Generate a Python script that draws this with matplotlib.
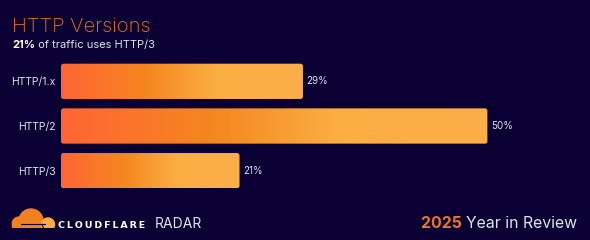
import numpy as np
import matplotlib
matplotlib.use("Agg")
from matplotlib import pyplot as plt
from matplotlib.colors import LinearSegmentedColormap
from matplotlib.patches import FancyBboxPatch, Circle, Rectangle


versions = ["HTTP/1.x", "HTTP/2", "HTTP/3"]
shares = [28.6, 50.4, 21.1]
value_labels = ["29%", "50%", "21%"]

title = "HTTP Versions"
sub_bold = "21%"
sub_rest = " of traffic uses HTTP/3"

BG = "#0A0033"
ORANGE = "#EF7620"
TEXT = "#E2E2EC"
W, H = 590, 240

plt.rcParams["font.family"] = ["Inter", "DejaVu Sans"]

grad = LinearSegmentedColormap.from_list(
	"cf", [(0.0, "#FF6535"), (0.35, "#F5861F"), (0.65, "#FBAE44"), (1.0, "#FBAE48")])


def px(x, y):
	# pixel coords from top-left -> figure fraction
	return x / W, 1 - y / H


def main():
	fig = plt.figure(figsize=(W / 100, H / 100), dpi=100, facecolor=BG)

	ax = fig.add_axes([61 / W, (240 - 193) / H, (W - 61) / W, 134 / H])
	ax.set_facecolor(BG)
	for s in ax.spines.values():
		s.set_visible(False)
	ax.set_xticks([])
	ax.set_yticks(range(len(versions)))
	ax.set_yticklabels(versions, color=TEXT, fontsize=7.5)
	ax.tick_params(axis="y", length=0, pad=4)

	bars = ax.barh(range(len(versions)), shares, height=0.79, color="none")
	g = np.linspace(0, 1, 256).reshape(1, -1)
	for b, lab in zip(bars, value_labels):
		x0, y0 = b.get_x(), b.get_y()
		w, h = b.get_width(), b.get_height()
		shape = FancyBboxPatch((x0, y0), w, h,
			boxstyle="round,pad=0,rounding_size=0.3", mutation_aspect=0.19,
			facecolor="none", edgecolor="none")
		ax.add_patch(shape)
		im = ax.imshow(g, cmap=grad, aspect="auto", extent=(x0, x0 + w, y0 + h, y0),
			interpolation="bilinear")
		im.set_clip_path(shape)
		ax.text(x0 + w + 0.4, y0 + h / 2, lab, color=TEXT, fontsize=7,
			va="center", ha="left")
	ax.set_xlim(0, (W - 61) / 8.46)
	ax.set_ylim(len(versions) - 0.5, -0.5)

	# header
	fig.text(*px(12, 31.5), title, color=ORANGE, fontsize=14.5, fontweight="light",
		va="baseline")
	t1 = fig.text(*px(12, 48), sub_bold, color="white", fontsize=8,
		fontweight="bold", va="baseline")
	plt.annotate(sub_rest, xy=(1, 0), xycoords=t1, color=TEXT, fontsize=8,
		va="bottom", ha="left")

	# footer
	y2 = fig.text(*px(577, 228), "Year in Review", color=TEXT, fontsize=11.4,
		ha="right", va="baseline")
	plt.annotate("2025 ", xy=(0, 0), xycoords=y2, color=ORANGE, fontsize=11.4,
		fontweight="bold", ha="right", va="bottom")

	fig.text(*px(58, 228), "C\u2009L\u2009O\u2009U\u2009D\u2009F\u2009L\u2009A\u2009R\u2009E",
		color="white", fontsize=6.8, fontweight="bold", family="DejaVu Sans",
		va="baseline")
	fig.text(*px(155, 228), "RADAR", color=TEXT, fontsize=10, va="baseline")

	# cloud logo, drawn in pixel units
	lx = fig.add_axes([8 / W, 1 - 232 / H, 50 / W, 27 / H])
	lx.set_xlim(8, 58)
	lx.set_ylim(232, 205)
	lx.axis("off")
	clip = Rectangle((0, 0), 100, 228, transform=lx.transData)
	parts = [
		Circle((31, 221), 12, color="#F38020"),
		Circle((19, 223.5), 6.5, color="#F38020"),
		Rectangle((12, 221), 32, 7, color="#F38020"),
		Circle((48, 224.5), 6.5, color="#FBAD41"),
	]
	for p in parts:
		lx.add_patch(p)
		p.set_clip_path(clip)
	lx.plot([21, 45], [224.3, 224.3], color=BG, lw=0.8)
	lx.plot([43.5, 42], [228, 224.3], color=BG, lw=0.8)

	fig.savefig("out.png", dpi=100, facecolor=BG)


main()
